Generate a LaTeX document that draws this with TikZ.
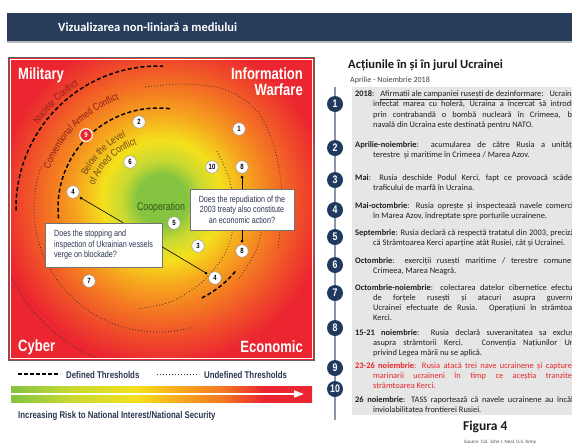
\documentclass[tikz,border=0pt]{standalone}
\usepackage{fontspec}
\setmainfont{Carlito}
\newfontfamily\condfont[FakeStretch=0.8]{Liberation Sans}
\usetikzlibrary{positioning,decorations.text,arrows.meta}
\definecolor{cNavy}{HTML}{283C5C}
\definecolor{cDisc}{HTML}{1F3A5E}
\definecolor{cPanel}{HTML}{E6E6E6}
\definecolor{cSpine}{HTML}{8A96A6}
\definecolor{cGreen}{HTML}{84C441}
\definecolor{cLime}{HTML}{C8D932}
\definecolor{cYellow}{HTML}{F4E01C}
\definecolor{cAmber}{HTML}{F6A81E}
\definecolor{cOrange}{HTML}{F47A22}
\definecolor{cRedOr}{HTML}{EF4A2A}
\definecolor{cRed}{HTML}{EB2630}
\definecolor{cMaroon}{HTML}{8A1C1C}
\definecolor{cBrown}{HTML}{6E4A16}
\definecolor{cLeaf}{HTML}{2F5219}
\definecolor{cInk}{HTML}{2A3550}
\definecolor{cAlert}{HTML}{E8262A}
\pgfdeclareradialshading{riskglow}{\pgfpoint{0bp}{0bp}}{color(0bp)=(cGreen); color(3.9bp)=(cGreen); color(6.3bp)=(cLime); color(9.4bp)=(cYellow); color(13.3bp)=(cAmber); color(17.2bp)=(cOrange); color(21.9bp)=(cRedOr); color(25.8bp)=(cRed); color(50bp)=(cRed)}
\pgfdeclarehorizontalshading{riskbar}{100bp}{color(0bp)=(cGreen); color(25bp)=(cGreen); color(35bp)=(cLime); color(46bp)=(cYellow); color(53bp)=(cAmber); color(60bp)=(cOrange); color(67bp)=(cRed); color(100bp)=(cRed)}
\newcommand{\arcfont}{\condfont\fontsize{10}{10}\selectfont}
\newcommand{\jl}[2]{\makebox[#1][s]{#2}}

\begin{document}
\begin{tikzpicture}[x=1pt, y=1pt,
  corner/.style={text=white, font=\condfont\bfseries\fontsize{16.3}{16}\selectfont, inner sep=0pt},
  numtag/.style={circle, fill=white, draw=black!40, line width=0.5pt, minimum size=12.5pt, inner sep=0pt, text=black, font=\condfont\bfseries\fontsize{7.5}{8}\selectfont},
  hottag/.style={numtag, fill=cAlert, draw=white, line width=1.1pt, text=white},
  askbox/.style={draw=black!55, fill=white, line width=0.7pt, text=cInk, font=\condfont\fontsize{9}{10.5}\selectfont, inner xsep=6pt, inner ysep=0pt},
  hardline/.style={line width=1.5pt, dash pattern=on 4pt off 2.5pt},
  softline/.style={line width=0.8pt, dash pattern=on 0.8pt off 2.2pt, black!80},
  arctext/.style={decorate, decoration={text along path, text align=center}},
  itemdisc/.style={circle, fill=cDisc, minimum size=16pt, inner sep=0pt, text=white, font=\condfont\bfseries\fontsize{11}{11}\selectfont},
  itemtext/.style={anchor=base west, inner sep=0pt, align=left, text=black!88, font=\fontsize{8.4}{10.3}\selectfont},
  legtext/.style={anchor=base west, inner sep=0pt, text=cInk, font=\condfont\bfseries\fontsize{9.8}{10}\selectfont}]

\useasboundingbox (0,0) rectangle (572,-445);

% title bar
\fill[cNavy] (7,-12.5) rectangle (572,-41);
\fill[black!28] (7,-41) rectangle (572,-43);
\node[anchor=west, inner sep=0pt, text=white, font=\bfseries\fontsize{12.5}{14}\selectfont] (title) at (58,-27) {Vizualizarea non-liniară a mediului};

% risk field
\begin{scope}
  \clip (9,-58) rectangle (314,-360);
  \shade[shading=riskglow] (2,-40) rectangle (322,-360);
  \coordinate (C) at (158,-208);
  % undefined thresholds
  \draw[softline] (C) ++(161:124) arc[start angle=161, end angle=286, radius=124];
  \draw[softline] (C) ++(202:162) arc[start angle=202, end angle=249, radius=162];
  \draw[softline] plot[smooth] coordinates {(145,-87) (185,-84) (227,-90) (258,-112) (275,-150) (282,-195) (278,-250)};
  \draw[softline] plot[smooth] coordinates {(217,-151) (229,-178) (234,-208) (231,-238) (221,-260) (200,-284) (170,-302) (138,-309)};
  \draw[softline] plot[smooth] coordinates {(262,-229) (257,-248) (248,-265) (238,-280)};
  % defined thresholds
  \draw[hardline] (C) ++(181:142) arc[start angle=181, end angle=88, radius=142];
  \draw[hardline] (C) ++(186:100) arc[start angle=186, end angle=82, radius=100];
  \draw[hardline] (C) ++(-64:100) arc[start angle=-64, end angle=-38, radius=100];
\end{scope}
\draw[white, line width=1.2pt] (10.2,-59.2) rectangle (312.8,-358.8);
\draw[black!62, line width=1.8pt] (8.5,-57.5) rectangle (314.5,-360.5);

% threshold names
\path[arctext, decoration={text={|\color{cMaroon}\arcfont|Nuclear Conflict}}] (C) ++(165:146) arc[start angle=165, end angle=103, radius=146];
\path[arctext, decoration={text={|\color{cMaroon}\arcfont|Conventional Armed Conflict}}] (C) ++(175:115) arc[start angle=175, end angle=95, radius=115];
\path[arctext, decoration={text={|\color{cBrown}\arcfont|Below the Level}}] (C) ++(170:78) arc[start angle=170, end angle=100, radius=78];
\path[arctext, decoration={text={|\color{cBrown}\arcfont|of Armed Conflict}}] (C) ++(175:67) arc[start angle=175, end angle=94, radius=67];

\node[inner sep=0pt, text=cLeaf, font=\condfont\fontsize{11}{11}\selectfont] (coop) at (161,-208) {Cooperation};

% corner domains
\node[corner, anchor=base west] (mil) at (18,-79) {Military};
\node[corner, anchor=base east] (info) at (303,-79) {Information};
\node[corner, anchor=base east] (warf) at (303,-95) {Warfare};
\node[corner, anchor=base west] (cyb) at (18,-351) {Cyber};
\node[corner, anchor=base east] (eco) at (303,-352) {Economic};

% questions
\node[askbox, align=left, minimum width=117pt, minimum height=44pt] (blockq) at (103.5,-245) {Does the stopping and\\inspection of Ukrainian vessels\\verge on blockade?};
\node[askbox, align=center, minimum width=104pt, minimum height=41pt] (treatyq) at (242,-209.5) {Does the repudiation of the\\2003 treaty also constitute\\an economic action?};

\coordinate (d4a) at (81,-198);
\coordinate (d4b) at (206,-273);
\coordinate (d8a) at (242,-177);
\coordinate (d8b) at (242,-241);
\draw[line width=0.6pt] ([xshift=19.5pt]blockq.north) -- (d4a);
\draw[line width=0.6pt] ([yshift=-2pt]blockq.east) -- (d4b);
\draw[line width=0.6pt] (treatyq.north) -- (d8a);
\draw[line width=0.6pt] (treatyq.south) -- (d8b);
\foreach \d in {d4a,d4b,d8a,d8b}
  \fill (\d) circle[radius=1.5pt];

% events
\node[numtag] (n1) at (239,-129) {1};
\node[numtag] (n2) at (139,-122) {2};
\node[numtag] (n3) at (198,-246) {3};
\node[numtag] (n4a) at (73,-192) {4};
\node[numtag] (n4b) at (215,-278) {4};
\node[numtag] (n5) at (174,-223) {5};
\node[numtag] (n6) at (130,-162) {6};
\node[numtag] (n7) at (89,-281) {7};
\node[numtag] (n8a) at (242,-167) {8};
\node[numtag] (n8b) at (242,-251) {8};
\node[hottag] (n9) at (86,-135) {9};
\node[numtag] (n10) at (212,-167) {10};

% legend
\coordinate (hardA) at (18,-374);
\coordinate (hardB) at (60,-374);
\coordinate (softA) at (157,-374);
\coordinate (softB) at (199,-374);
\draw[hardline, dash pattern=on 4pt off 2pt] (hardA) -- (hardB);
\node[legtext] (hardlbl) at (66,-378) {Defined Thresholds};
\draw[softline] (softA) -- (softB);
\node[legtext] (softlbl) at (204,-378) {Undefined Thresholds};

\shade[shading=riskbar] (11,-386) rectangle (312,-402);
\coordinate (barA) at (11,-394);
\coordinate (barB) at (304,-394);
\draw[white, line width=2pt, -{Triangle[length=10pt, width=7pt]}] (barA) -- (barB);
\node[legtext] (risk) at (18,-418) {Increasing Risk to National Interest/National Security};

% timeline
\node[anchor=base west, inner sep=0pt, text=black!90, font=\bfseries\fontsize{12.5}{14}\selectfont] (rtitle) at (348,-68) {Acțiunile în și în jurul Ucrainei};
\node[anchor=base west, inner sep=0pt, text=black!75, font=\fontsize{8}{9}\selectfont] (rsub) at (350,-82) {Aprilie - Noiembrie 2018};

\fill[cPanel] (352,-87) rectangle (572,-415);
\coordinate (spineA) at (335,-87);
\coordinate (spineB) at (335,-420);
\draw[cSpine, line width=1.1pt] (spineA) -- (spineB);

% multi-line entries sit on the baseline of their last line
\node[itemtext] (t1) at (355,-127.4) {\jl{228pt}{\textbf{2018}: \underline{Afirmatii ale campaniei rusești de dezinformare}: Ucraina a}\\
  \hspace*{18pt}\jl{210pt}{infectat marea cu holeră, Ucraina a încercat să introducă}\\
  \hspace*{18pt}\jl{210pt}{prin contrabandă o bombă nucleară în Crimeea, baza}\\
  \hspace*{18pt}navală din Ucraina este destinată pentru NATO.};
\node[itemtext] (t2) at (355,-157.3) {\jl{228pt}{\textbf{Aprilie-noiembrie}: acumularea de către Rusia a unităților}\\
  \hspace*{18pt}terestre \ și maritime în Crimeea / Marea Azov.};
\node[itemtext] (t3) at (355,-190.3) {\jl{228pt}{\textbf{Mai}: Rusia deschide Podul Kerci, fapt ce provoacă scăderea}\\
  \hspace*{18pt}traficului de marfă în Ucraina.};
\node[itemtext] (t4) at (355,-218.3) {\jl{228pt}{\textbf{Mai-octombrie}: Rusia oprește și inspectează navele comerciale}\\
  \hspace*{18pt}în Marea Azov, îndreptate spre porturile ucrainene.};
\node[itemtext] (t5) at (355,-245.3) {\jl{228pt}{\textbf{Septembrie}: Rusia declară că respectă tratatul din 2003, precizând}\\
  \hspace*{18pt}că Strâmtoarea Kerci aparține atât Rusiei, cât și Ucrainei.};
\node[itemtext] (t6) at (355,-273.3) {\jl{228pt}{\textbf{Octombrie}: exerciții rusești maritime / terestre comune în}\\
  \hspace*{18pt}Crimeea, Marea Neagră.};
\node[itemtext] (t7) at (355,-320.9) {\jl{228pt}{\textbf{Octombrie-noiembrie}: colectarea datelor cibernetice efectuată}\\
  \hspace*{18pt}\jl{210pt}{de forțele rusești și atacuri asupra guvernului}\\
  \hspace*{18pt}\jl{210pt}{Ucrainei efectuate de Rusia. Operațiuni în strâmtoarea}\\
  \hspace*{18pt}Kerci.};
\node[itemtext] (t8) at (355,-355.6) {\jl{228pt}{\textbf{15-21 noiembrie}: Rusia declară suveranitatea sa exclusivă}\\
  \hspace*{18pt}\jl{210pt}{asupra strâmtorii Kerci. Convenția Națiunilor Unite}\\
  \hspace*{18pt}privind Legea mării nu se aplică.};
\node[itemtext, text=cAlert] (t9) at (355,-388.6) {\jl{228pt}{\textbf{23-26 noiembrie}: Rusia atacă trei nave ucrainene și capturează}\\
  \hspace*{18pt}\jl{210pt}{marinarii ucraineni în timp ce aceștia tranzitează}\\
  \hspace*{18pt}strâmtoarea Kerci.};
\node[itemtext] (t10) at (355,-412.3) {\jl{228pt}{\textbf{26 noiembrie}: TASS raportează că navele ucrainene au încălcat}\\
  \hspace*{18pt}inviolabilitatea frontierei Rusiei.};

\node[itemdisc] (s1) at (335,-104) {1};
\node[itemdisc] (s2) at (335,-148) {2};
\node[itemdisc] (s3) at (335,-180) {3};
\node[itemdisc] (s4) at (335,-210) {4};
\node[itemdisc] (s5) at (335,-237) {5};
\node[itemdisc] (s6) at (335,-265) {6};
\node[itemdisc] (s7) at (335,-293) {7};
\node[itemdisc] (s8) at (335,-328) {8};
\node[itemdisc] (s9) at (335,-368) {9};
\node[itemdisc] (s10) at (335,-389) {10};

\node[anchor=base west, inner sep=0pt, text=black!90, font=\bfseries\fontsize{13.5}{14}\selectfont] (fig) at (463,-430) {Figura 4};
\node[anchor=base west, inner sep=0pt, text=black!70, font=\fontsize{5}{6}\selectfont] (src) at (464,-443.5) {Source: Col. John J. Neal, U.S. Army};
\end{tikzpicture}
\end{document}
